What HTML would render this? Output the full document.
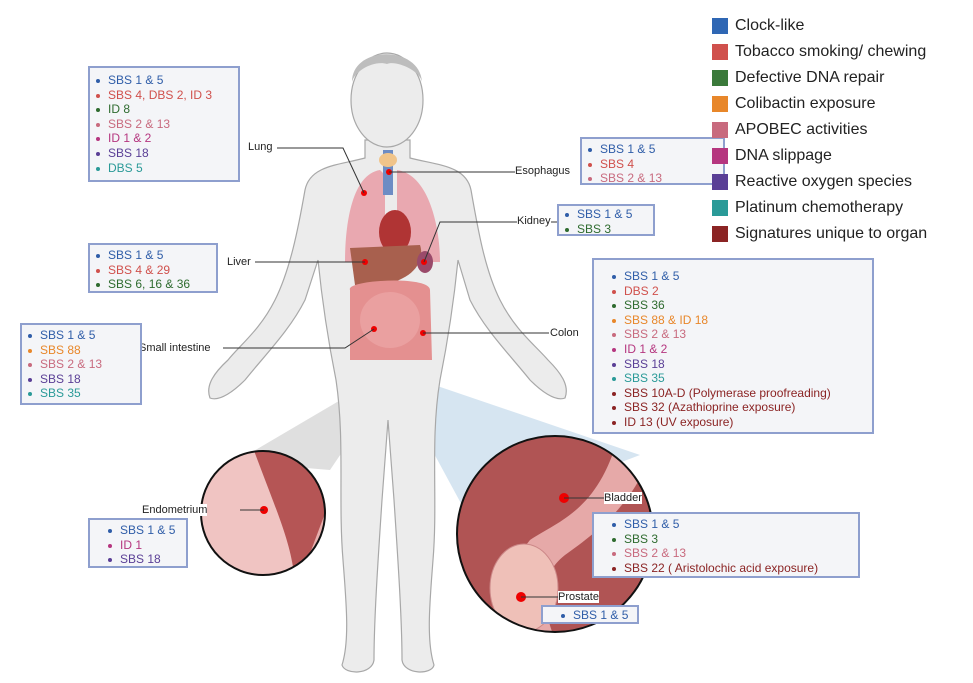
<!DOCTYPE html>
<html><head><meta charset="utf-8"><style>
body{margin:0;width:973px;height:683px;background:#fff;position:relative;overflow:hidden;font-family:"Liberation Sans",sans-serif}
.box{position:absolute;background:#f4f5f8;border:2px solid #8e9fce;box-sizing:border-box;font-size:12px;line-height:14.6px;padding:5px 0 0 18px}
.box div{position:relative;white-space:nowrap}
.box div:before{content:"";position:absolute;left:-12px;top:6px;width:4px;height:4px;border-radius:50%;background:currentColor}
.b{color:#2f5da8}.r{color:#d0504c}.g{color:#2e6b2f}.o{color:#e8872a}.p{color:#c86a7e}.m{color:#b5367f}.v{color:#5a3f96}.t{color:#2a9a98}.d{color:#8b2424}
.lbl{position:absolute;font-size:11px;color:#222;background:#fff;line-height:12px}
.leg{position:absolute;left:712px;font-size:16px;color:#222}
.leg span{position:absolute;left:0;top:1px;width:16px;height:16px}
.leg b{font-weight:normal;position:absolute;left:23px;white-space:nowrap}
</style></head><body>
<svg width="973" height="683" style="position:absolute;left:0;top:0">
<defs>
<clipPath id="cl"><circle cx="263" cy="513" r="62"/></clipPath>
<clipPath id="cr"><circle cx="555" cy="534" r="98"/></clipPath>
</defs>
<!-- cones -->
<polygon points="378,378 392,378 330,470 235,462" fill="#d9d9d9" opacity=".85"/>
<polygon points="392,376 408,376 640,455 470,520" fill="#cfe0ee" opacity=".85"/>
<!-- body -->
<g fill="#ececec" stroke="#a8a8a8" stroke-width="1.2">
<path d="M365,140 L365,158 C340,165 310,165 305,190 C298,230 290,270 275,300 C260,330 240,345 228,360 C215,372 205,385 210,398 C220,402 235,390 245,380 C265,355 290,330 305,300 L318,260 C322,300 328,340 336,380 C345,440 338,500 343,560 C346,600 350,640 342,665 C345,675 372,675 374,660 C374,620 378,560 382,500 L388,420 L394,500 C398,560 402,620 402,660 C404,675 432,675 434,665 C426,640 430,600 433,560 C438,500 430,440 440,380 C448,340 454,300 458,260 L470,300 C485,330 510,355 530,380 C540,390 555,402 565,398 C570,385 560,372 548,360 C535,345 515,330 500,300 C485,270 478,230 471,190 C466,165 436,165 410,158 L410,140 Z"/>
<ellipse cx="387" cy="100" rx="36" ry="47"/>
</g>
<path d="M352,82 C352,45 420,45 422,82 C420,70 395,60 387,64 C375,60 355,70 352,82Z" fill="#bdbdbd"/>
<!-- organs -->
<path d="M380,170 C350,175 345,230 345,262 L385,262 L385,175Z" fill="#e9a8b0"/>
<path d="M397,170 C430,175 440,230 440,262 L397,262Z" fill="#e9a8b0"/>
<rect x="383" y="150" width="10" height="45" fill="#6d8cc4"/>
<ellipse cx="388" cy="160" rx="9" ry="7" fill="#f0c48a"/>
<ellipse cx="395" cy="232" rx="16" ry="22" fill="#b03434"/>
<path d="M350,248 L420,245 C425,260 415,280 380,285 L355,285Z" fill="#a8604e"/>
<ellipse cx="425" cy="262" rx="8" ry="11" fill="#9a4a6a"/>
<path d="M350,290 C345,280 430,275 430,290 L432,360 L350,360Z" fill="#e49090"/>
<ellipse cx="390" cy="320" rx="30" ry="28" fill="#eaa0a0"/>
<!-- zoom circles -->
<circle cx="263" cy="513" r="62" fill="#f0c4c2"/>
<g clip-path="url(#cl)">
<path d="M253,448 L330,448 L330,510 L300,580 L295,580 C290,540 280,520 253,448 Z" fill="#b55555"/>
<path d="M330,500 L300,580 L330,580Z" fill="#e8b0ae"/>
</g>
<circle cx="263" cy="513" r="62" fill="none" stroke="#111" stroke-width="2"/>
<circle cx="555" cy="534" r="98" fill="#b05454"/>
<g clip-path="url(#cr)">
<path d="M620,430 L660,430 C640,500 600,530 565,555 C540,575 540,600 555,640 L515,640 C505,610 505,570 530,540 C560,520 600,510 620,430Z" fill="#e6a9a8"/>
<ellipse cx="524" cy="588" rx="34" ry="44" fill="#efc0b8" stroke="#c88"/>
</g>
<circle cx="555" cy="534" r="98" fill="none" stroke="#111" stroke-width="2"/>
<g fill="#e00"><circle cx="364" cy="193" r="3"/><circle cx="389" cy="172" r="3"/><circle cx="365" cy="262" r="3"/><circle cx="424" cy="262" r="3"/><circle cx="374" cy="329" r="3"/><circle cx="423" cy="333" r="3"/><circle cx="264" cy="510" r="4"/><circle cx="564" cy="498" r="5"/><circle cx="521" cy="597" r="5"/></g>
<g stroke="#333" stroke-width="1" fill="none">
<polyline points="277,148 343,148 364,193"/><polyline points="389,172 515,172"/><polyline points="424,262 440,222 557,222"/><polyline points="255,262 365,262"/><polyline points="223,348 345,348 374,329"/><polyline points="423,333 549,333"/><polyline points="240,510 264,510"/><polyline points="564,498 604,498"/><polyline points="521,597 558,597"/>
</g>
</svg>
<div class="lbl" style="left:248px;top:141px">Lung</div>
<div class="lbl" style="left:515px;top:165px">Esophagus</div>
<div class="lbl" style="left:517px;top:215px">Kidney</div>
<div class="lbl" style="left:227px;top:256px">Liver</div>
<div class="lbl" style="left:139px;top:342px">Small intestine</div>
<div class="lbl" style="left:550px;top:327px">Colon</div>
<div class="lbl" style="left:142px;top:504px">Endometrium</div>
<div class="lbl" style="left:604px;top:492px">Bladder</div>
<div class="lbl" style="left:558px;top:591px">Prostate</div>

<div class="box" style="left:88px;top:66px;width:152px;height:116px"><div class="b">SBS 1 &amp; 5</div><div class="r">SBS 4, DBS 2, ID 3</div><div class="g">ID 8</div><div class="p">SBS 2 &amp; 13</div><div class="m">ID 1 &amp; 2</div><div class="v">SBS 18</div><div class="t">DBS 5</div></div>
<div class="box" style="left:580px;top:137px;width:145px;height:48px;padding-top:3px"><div class="b">SBS 1 &amp; 5</div><div class="r">SBS 4</div><div class="p">SBS 2 &amp; 13</div></div>
<div class="box" style="left:557px;top:204px;width:98px;height:32px;padding-top:1px"><div class="b">SBS 1 &amp; 5</div><div class="g">SBS 3</div></div>
<div class="box" style="left:88px;top:243px;width:130px;height:50px;padding-top:3px"><div class="b">SBS 1 &amp; 5</div><div class="r">SBS 4 &amp; 29</div><div class="g">SBS 6, 16 &amp; 36</div></div>
<div class="box" style="left:20px;top:323px;width:122px;height:82px;padding-top:3px"><div class="b">SBS 1 &amp; 5</div><div class="o">SBS 88</div><div class="p">SBS 2 &amp; 13</div><div class="v">SBS 18</div><div class="t">SBS 35</div></div>
<div class="box" style="left:592px;top:258px;width:282px;height:176px;padding-top:9px;padding-left:30px"><div class="b">SBS 1 &amp; 5</div><div class="r">DBS 2</div><div class="g">SBS 36</div><div class="o">SBS 88 &amp; ID 18</div><div class="p">SBS 2 &amp; 13</div><div class="m">ID 1 &amp; 2</div><div class="v">SBS 18</div><div class="t">SBS 35</div><div class="d">SBS 10A-D (Polymerase proofreading)</div><div class="d">SBS 32 (Azathioprine exposure)</div><div class="d">ID 13 (UV exposure)</div></div>
<div class="box" style="left:88px;top:518px;width:100px;height:50px;padding-top:3px;padding-left:30px"><div class="b">SBS 1 &amp; 5</div><div class="m">ID 1</div><div class="v">SBS 18</div></div>
<div class="box" style="left:592px;top:512px;width:268px;height:66px;padding-top:3px;padding-left:30px"><div class="b">SBS 1 &amp; 5</div><div class="g">SBS 3</div><div class="p">SBS 2 &amp; 13</div><div class="d">SBS 22 ( Aristolochic acid exposure)</div></div>
<div class="box" style="left:541px;top:605px;width:98px;height:19px;padding-top:1px;padding-left:30px"><div class="b">SBS 1 &amp; 5</div></div>

<div class="leg" style="top:17px"><span style="background:#2f67b4"></span><b>Clock-like</b></div>
<div class="leg" style="top:43px"><span style="background:#d0504c"></span><b>Tobacco smoking/ chewing</b></div>
<div class="leg" style="top:69px"><span style="background:#3b7a3b"></span><b>Defective DNA repair</b></div>
<div class="leg" style="top:95px"><span style="background:#e8872a"></span><b>Colibactin exposure</b></div>
<div class="leg" style="top:121px"><span style="background:#c86a7e"></span><b>APOBEC activities</b></div>
<div class="leg" style="top:147px"><span style="background:#b5367f"></span><b>DNA slippage</b></div>
<div class="leg" style="top:173px"><span style="background:#5a3f96"></span><b>Reactive oxygen species</b></div>
<div class="leg" style="top:199px"><span style="background:#2a9a98"></span><b>Platinum chemotherapy</b></div>
<div class="leg" style="top:225px"><span style="background:#8b2424"></span><b>Signatures unique to organ</b></div>
</body></html>
